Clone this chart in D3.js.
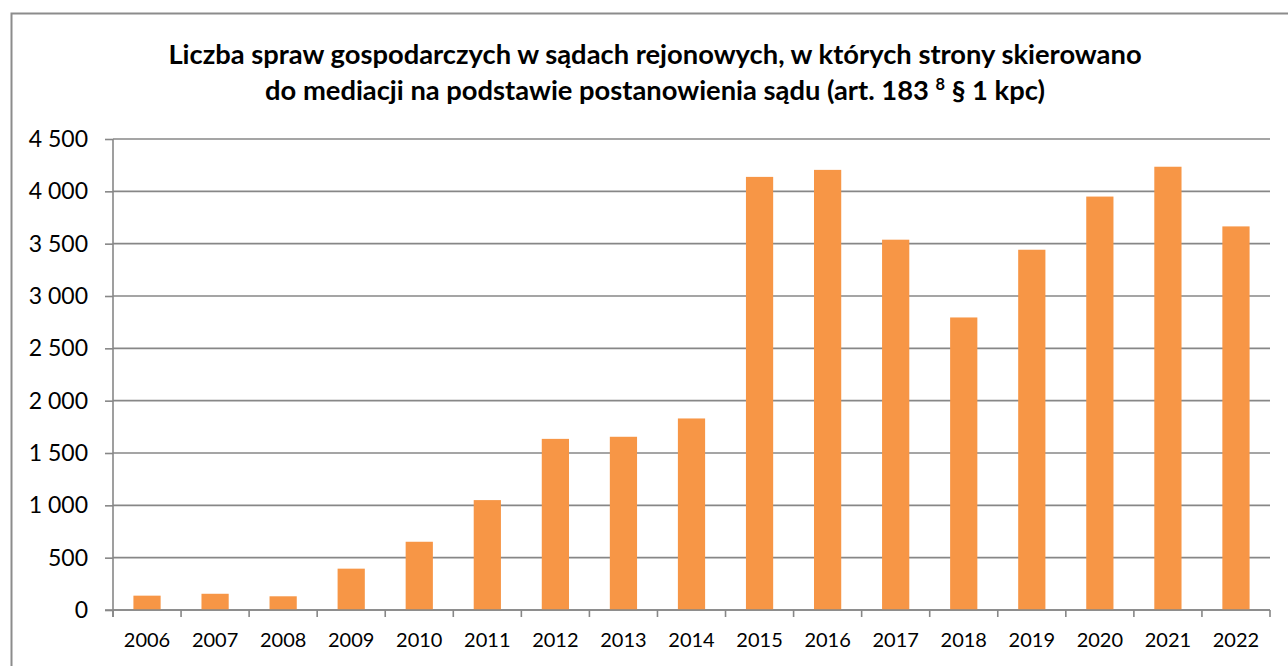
<!DOCTYPE html>
<html lang="pl">
<head>
<meta charset="utf-8">
<script src="https://cdn.jsdelivr.net/npm/d3@7"></script>
<style>
  html, body { margin: 0; padding: 0; background: #fff; }
  svg { display: block; }
</style>
</head>
<body>
<div id="chart"></div>
<script>
'use strict';

// data
const years = ['2006','2007','2008','2009','2010','2011','2012','2013','2014',
               '2015','2016','2017','2018','2019','2020','2021','2022'];
const cases = [137, 155, 131, 395, 652, 1050, 1635, 1655, 1830,
               4138, 4205, 3538, 2795, 3442, 3950, 4235, 3665];
const yTicks = [0, 500, 1000, 1500, 2000, 2500, 3000, 3500, 4000, 4500];

const W = 1288, H = 666;
const margin = {top: 139, right: 18, bottom: 56, left: 113};
const barColor = '#F79646';
const lineColor = '#878787';
const font = 'Lato, "Open Sans", sans-serif';

const svg = d3.select('#chart').append('svg')
  .attr('width', W)
  .attr('height', H);

// chart frame (right and bottom edges are cut off in the original)
svg.append('path')
  .attr('d', `M11.5,${H + 2} V13.5 H${W + 2}`)
  .attr('fill', 'none')
  .attr('stroke', '#8c8c8c')
  .attr('stroke-width', 2);

// title, two lines
const title = svg.append('text')
  .attr('text-anchor', 'middle')
  .attr('font-family', font)
  .attr('font-weight', 700)
  .attr('font-size', 23)
  .attr('fill', '#000');
const l1 = title.append('tspan')
  .attr('x', 655).attr('y', 64)
  .text('Liczba spraw gospodarczych w sądach rejonowych, w których strony skierowano');
const l2 = title.append('tspan')
  .attr('x', 655).attr('y', 100)
  .text('do mediacji na podstawie postanowienia sądu (art. 183 ');
const sup = l2.append('tspan').attr('dy', -10).text('8');
const rest = l2.append('tspan').attr('dy', 10).text(' § 1 kpc)');

// the original uses a condensed face; grow the font until line 1 is as wide
const fitSize = 23 * 974 / l1.node().getComputedTextLength();
title.attr('font-size', fitSize);
sup.attr('font-size', fitSize * 0.6);
rest.attr('font-size', fitSize);

const plotW = W - margin.left - margin.right;
const plotH = H - margin.top - margin.bottom;

const x = d3.scaleBand()
  .domain(years)
  .range([0, plotW])
  .paddingInner(0.6)
  .paddingOuter(0.3);

const y = d3.scaleLinear()
  .domain([0, 4500])
  .range([plotH, 0]);

const g = svg.append('g')
  .attr('transform', `translate(${margin.left},${margin.top})`);

// horizontal gridlines
g.selectAll('.grid')
  .data(yTicks)
  .enter()
  .append('line')
  .attr('class', 'grid')
  .attr('x1', 0)
  .attr('x2', plotW)
  .attr('y1', d => y(d))
  .attr('y2', d => y(d))
  .attr('stroke', lineColor)
  .attr('stroke-width', 1.6);

// bars
g.selectAll('.bar')
  .data(years)
  .enter()
  .append('rect')
  .attr('class', 'bar')
  .attr('x', d => x(d))
  .attr('y', (d, i) => y(cases[i]))
  .attr('width', x.bandwidth())
  .attr('height', (d, i) => plotH - y(cases[i]))
  .attr('fill', barColor);

// y axis
const yAxis = g.append('g')
  .call(d3.axisLeft(y)
    .tickValues(yTicks)
    .tickSize(8)
    .tickPadding(17)
    .tickFormat(d => d3.format(',')(d).replace(/,/g, ' ')));
yAxis.select('.domain').attr('stroke', lineColor).attr('stroke-width', 1.6)
  .attr('d', `M0,${plotH + 7}V0`);
yAxis.selectAll('.tick line').attr('stroke', lineColor).attr('stroke-width', 1.6);
yAxis.selectAll('.tick text')
  .attr('font-family', font)
  .attr('font-size', 23)
  .attr('fill', '#000');

// x axis, ticks between the categories
const xAxisG = g.append('g')
  .attr('transform', `translate(0,${plotH})`);
xAxisG.append('line')
  .attr('x1', -8).attr('x2', plotW)
  .attr('stroke', lineColor).attr('stroke-width', 1.6);
const step = x.step();
xAxisG.selectAll('.xtick')
  .data(d3.range(years.length + 1))
  .enter()
  .append('line')
  .attr('class', 'xtick')
  .attr('x1', i => i * step)
  .attr('x2', i => i * step)
  .attr('y1', 0)
  .attr('y2', 7)
  .attr('stroke', lineColor)
  .attr('stroke-width', 1.6);
xAxisG.selectAll('.xlabel')
  .data(years)
  .enter()
  .append('text')
  .attr('class', 'xlabel')
  .attr('x', d => x(d) + x.bandwidth() / 2)
  .attr('y', 37)
  .attr('text-anchor', 'middle')
  .attr('font-family', font)
  .attr('font-size', 20)
  .attr('fill', '#000')
  .text(d => d);
</script>
</body>
</html>
